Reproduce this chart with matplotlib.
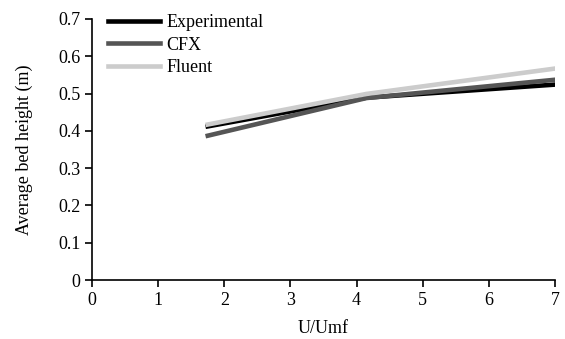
import matplotlib.pyplot as plt

# valores
u_umf = [1.75, 4.15, 7.0]
experimental = [0.412, 0.489, 0.524]
cfx = [0.387, 0.488, 0.537]
fluent = [0.417, 0.499, 0.567]

plt.rcParams['font.family'] = ['Liberation Serif', 'DejaVu Serif']
plt.rcParams['font.size'] = 13

fig = plt.figure(figsize=(5.65, 3.39), dpi=100)
ax = fig.add_axes([0.163, 0.174, 0.819, 0.770])

ax.plot(u_umf, experimental, color='black', lw=3.3, label='Experimental')
ax.plot(u_umf, cfx, color='#555555', lw=3.3, label='CFX')
ax.plot(u_umf, fluent, color='#cccccc', lw=3.3, label='Fluent')

ax.set_xlim(0, 7)
ax.set_ylim(0, 0.7)
ax.set_xticks(range(0, 8))
ax.set_yticks([0, 0.1, 0.2, 0.3, 0.4, 0.5, 0.6, 0.7])
ax.set_yticklabels(['0', '0.1', '0.2', '0.3', '0.4', '0.5', '0.6', '0.7'])

for lado in ['top', 'right']:
    ax.spines[lado].set_visible(False)
ax.tick_params(direction='out', length=5, width=1.2)
ax.spines['left'].set_linewidth(1.2)
ax.spines['bottom'].set_linewidth(1.2)

ax.set_xlabel('U/Umf', labelpad=8)
ax.set_ylabel('Average bed height (m)', labelpad=18)

ax.legend(loc='upper left', bbox_to_anchor=(0.01, 1.06), frameon=False,
          handlelength=2.9, handletextpad=0.35, labelspacing=0.3, borderaxespad=0.2)

fig.savefig('out.png')
